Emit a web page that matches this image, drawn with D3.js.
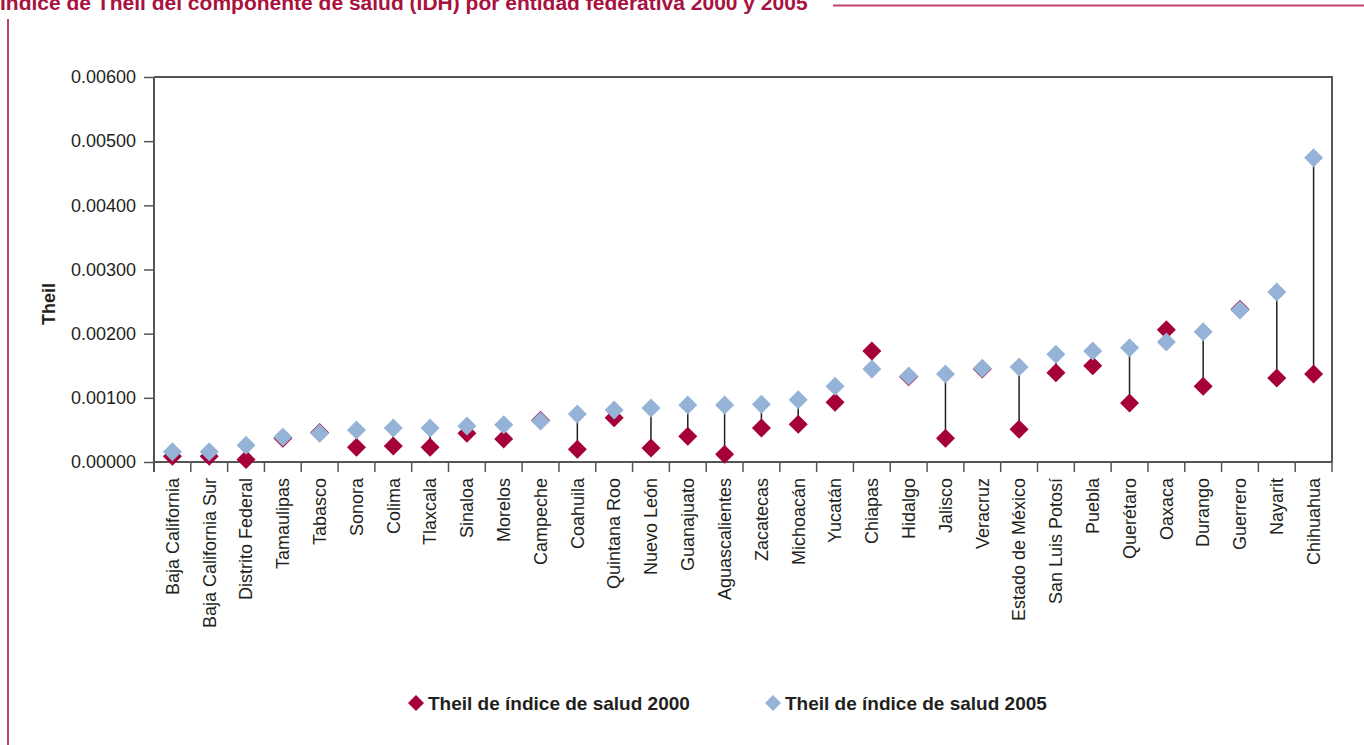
<!DOCTYPE html>
<html>
<head>
<meta charset="utf-8">
<script src="https://cdn.jsdelivr.net/npm/d3@7"></script>
<style>
  html, body { margin: 0; padding: 0; background: #fff; }
  svg { display: block; }
  text { font-family: "Liberation Sans", Arial, sans-serif; fill: #231f20; }
</style>
</head>
<body>
<script>
const categories = ["Baja California","Baja California Sur","Distrito Federal","Tamaulipas","Tabasco","Sonora","Colima","Tlaxcala","Sinaloa","Morelos","Campeche","Coahuila","Quintana Roo","Nuevo León","Guanajuato","Aguascalientes","Zacatecas","Michoacán","Yucatán","Chiapas","Hidalgo","Jalisco","Veracruz","Estado de México","San Luis Potosí","Puebla","Querétaro","Oaxaca","Durango","Guerrero","Nayarit","Chihuahua"];
const theil2000 = [0.00009,0.00009,0.00004,0.00037,0.00046,0.00023,0.00025,0.00023,0.00045,0.00036,0.00065,0.00020,0.00069,0.00022,0.00040,0.00012,0.00053,0.00059,0.00093,0.00173,0.00133,0.00037,0.00145,0.00051,0.00139,0.00150,0.00092,0.00206,0.00118,0.00238,0.00131,0.00137];
const theil2005 = [0.00016,0.00016,0.00026,0.00039,0.00045,0.00050,0.00053,0.00053,0.00056,0.00058,0.00064,0.00075,0.00081,0.00084,0.00089,0.00089,0.00090,0.00097,0.00118,0.00145,0.00134,0.00137,0.00146,0.00148,0.00168,0.00173,0.00178,0.00187,0.00203,0.00237,0.00265,0.00474];
const yTicks = [0,0.001,0.002,0.003,0.004,0.005,0.006];
const seriesNames = ["Theil de índice de salud 2000","Theil de índice de salud 2005"];
const titleText = "Índice de Theil del componente de salud (IDH) por entidad federativa 2000 y 2005";
const yTitle = "Theil";

const W = 1364, H = 745;
const red = "#a6003a", blue = "#95b3d7", accent = "#c4426c";
const svg = d3.select("body").append("svg").attr("width", W).attr("height", H);

// frame decorations
svg.append("text").attr("x", 0).attr("y", 10).attr("font-size", 21).attr("font-weight", "bold")
  .style("fill", "#a8123e").text(titleText);
svg.append("line").attr("x1", 833).attr("x2", W).attr("y1", 5.5).attr("y2", 5.5)
  .attr("stroke", accent).attr("stroke-width", 2);
svg.append("line").attr("x1", 8).attr("x2", 8).attr("y1", 19).attr("y2", H)
  .attr("stroke", accent).attr("stroke-width", 2);

const pLeft = 154, pRight = 1332, pTop = 77, pBottom = 462;
const x = d3.scaleBand().domain(categories).range([pLeft, pRight]).padding(0);
const y = d3.scaleLinear().domain([0, 0.006]).range([pBottom, pTop]);

// plot border top & right
svg.append("path").attr("d", `M${pLeft},${pTop}H${pRight}V${pBottom}`)
  .attr("fill", "none").attr("stroke", "#555").attr("stroke-width", 2);

// y axis
const yAxis = svg.append("g").attr("transform", `translate(${pLeft},0)`)
  .call(d3.axisLeft(y).tickValues(yTicks).tickSize(10).tickPadding(8).tickFormat(d3.format(".5f")));
yAxis.select(".domain").remove();
yAxis.selectAll(".tick line").attr("stroke", "#555").attr("stroke-width", 1.5);
yAxis.selectAll(".tick text").attr("font-size", 18).style("font-family", "'Liberation Sans', Arial, sans-serif").style("fill", "#231f20");
svg.append("line").attr("x1", pLeft).attr("x2", pLeft).attr("y1", pTop).attr("y2", pBottom + 10)
  .attr("stroke", "#555").attr("stroke-width", 2);

// x axis
svg.append("line").attr("x1", pLeft).attr("x2", pRight).attr("y1", pBottom).attr("y2", pBottom)
  .attr("stroke", "#555").attr("stroke-width", 2);
const edges = categories.map(c => x(c)).concat([pRight]);
svg.append("g").selectAll("line").data(edges).join("line")
  .attr("x1", d => d).attr("x2", d => d).attr("y1", pBottom).attr("y2", pBottom + 10)
  .attr("stroke", "#555").attr("stroke-width", 1.5);
const xAxis = svg.append("g").attr("transform", `translate(0,${pBottom})`)
  .call(d3.axisBottom(x).tickSize(0).tickPadding(0));
xAxis.select(".domain").remove();
xAxis.selectAll(".tick text")
  .attr("transform", "rotate(-90)")
  .attr("x", -16).attr("y", 0).attr("dy", "0.35em")
  .attr("text-anchor", "end")
  .attr("font-size", 18)
  .style("font-family", "'Liberation Sans', Arial, sans-serif").style("fill", "#231f20");

// y title
svg.append("text").attr("transform", `translate(55,304) rotate(-90)`)
  .attr("text-anchor", "middle").attr("font-size", 18).attr("font-weight", "bold").text(yTitle);

// high-low lines
const cx = c => x(c) + x.bandwidth() / 2;
svg.append("g").selectAll("line").data(categories).join("line")
  .attr("x1", cx).attr("x2", cx)
  .attr("y1", (c, i) => y(theil2000[i])).attr("y2", (c, i) => y(theil2005[i]))
  .attr("stroke", "#231f20").attr("stroke-width", 1.5);

const r = 9.5;
const diamond = `M0,${-r}L${r},0L0,${r}L${-r},0Z`;
svg.append("g").selectAll("path").data(categories).join("path")
  .attr("d", diamond).attr("fill", red)
  .attr("transform", (c, i) => `translate(${cx(c)},${y(theil2000[i])})`);
svg.append("g").selectAll("path").data(categories).join("path")
  .attr("d", diamond).attr("fill", blue)
  .attr("transform", (c, i) => `translate(${cx(c)},${y(theil2005[i])})`);

// legend
const legend = [{name: seriesNames[0], color: red, x: 416}, {name: seriesNames[1], color: blue, x: 773}];
const lg = svg.append("g").selectAll("g").data(legend).join("g")
  .attr("transform", d => `translate(${d.x},703)`);
lg.append("path").attr("d", `M0,-8L8,0L0,8L-8,0Z`).attr("fill", d => d.color);
lg.append("text").attr("x", 12).attr("dy", "0.35em").attr("font-size", 19).attr("font-weight", "bold")
  .text(d => d.name);
</script>
</body>
</html>
